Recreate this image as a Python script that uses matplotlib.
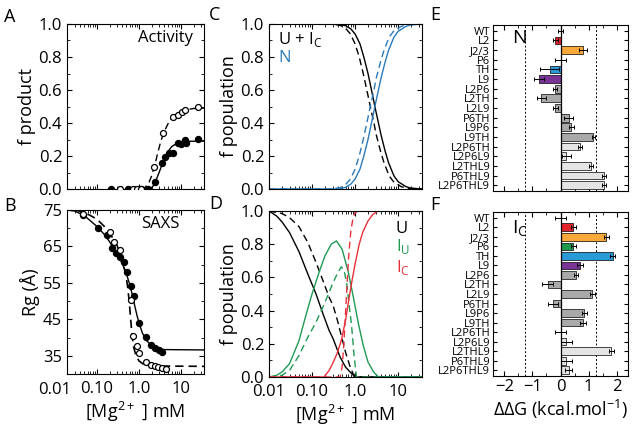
import numpy as np
import matplotlib.pyplot as plt
from matplotlib import transforms

plt.rcParams['font.family'] = ['Open Sans', 'DejaVu Sans']
plt.rcParams['mathtext.fontset'] = 'custom'
plt.rcParams['mathtext.rm'] = 'Open Sans'

# ---- A: activity ----
act_fill_x = [0.22, 0.55, 1.1, 1.6, 2.4, 3.6, 4.1, 5.2, 6.3, 8.3, 9.9, 12.4, 13.0, 25.8]
act_fill_y = [0.0, 0.0, 0.0, 0.0, 0.044, 0.16, 0.196, 0.22, 0.22, 0.277, 0.27, 0.297, 0.277, 0.303]
act_open_x = [0.36, 0.73, 0.88, 1.09, 2.28, 3.8, 6.3, 8.3, 10.3, 12.4, 25.8]
act_open_y = [0.0, 0.0, 0.0, 0.0, 0.135, 0.337, 0.438, 0.448, 0.468, 0.479, 0.499]
act_fit_x = [1.5, 1.9, 2.2, 2.6, 3.0, 3.5, 4.0, 5.0, 6.0, 8.0, 10, 15, 35]
act_fit_y = [0.0, 0.002, 0.02, 0.06, 0.1, 0.145, 0.185, 0.23, 0.257, 0.278, 0.285, 0.289, 0.29]
act_fit2_x = [1.1, 1.4, 1.7, 2.0, 2.4, 2.8, 3.3, 4.0, 5.0, 6.5, 9, 13, 20, 35]
act_fit2_y = [0.0, 0.01, 0.035, 0.08, 0.15, 0.22, 0.29, 0.35, 0.40, 0.44, 0.465, 0.48, 0.488, 0.49]

# ---- B: SAXS ----
rg_fill_x = [0.048, 0.109, 0.174, 0.229, 0.29, 0.35, 0.43, 0.52, 0.63, 0.75, 0.99, 1.44, 1.9, 2.4, 3.0, 3.6]
rg_fill_y = [73.6, 70.0, 68.2, 64.5, 63.2, 62.2, 60.6, 58.1, 54.2, 51.3, 44.1, 40.1, 38.0, 37.1, 36.5, 35.9]
rg_open_x = [0.048, 0.2, 0.25, 0.35, 0.63, 0.73, 0.88, 1.01, 1.44, 1.97, 2.4, 2.8, 3.5, 4.4]
rg_open_y = [74.0, 69.1, 66.1, 63.9, 50.4, 40.5, 37.6, 35.8, 33.2, 32.6, 32.3, 31.9, 31.6, 31.4]
rg_fit_x = [0.0195, 0.03, 0.05, 0.1, 0.15, 0.2, 0.3, 0.4, 0.5, 0.6, 0.7, 0.8, 0.9, 1.0, 1.2, 1.5, 2.0, 2.5, 3.0, 4, 35]
rg_fit_y = [75, 74.7, 73.5, 70.5, 68.3, 66.3, 63, 60.3, 57.6, 54.6, 51.6, 48.5, 46, 44, 41.3, 39.2, 37.8, 37.2, 36.9, 36.7, 36.6]
rg_fit2_x = [0.03, 0.05, 0.1, 0.15, 0.2, 0.3, 0.4, 0.5, 0.55, 0.6, 0.65, 0.7, 0.75, 0.85, 1.0, 1.3, 2.0, 35]
rg_fit2_y = [75, 74.4, 72.5, 70.5, 68.8, 65.3, 61.5, 56.5, 53, 48.5, 43.5, 39.8, 37.3, 35, 33.6, 32.6, 32.2, 32.1]

# ---- C: N vs U + Ic ----
c_x = [0.01, 0.4, 0.6, 0.8, 1.0, 1.3, 1.6, 2.0, 2.5, 3.0, 3.5, 4.0, 5, 6, 8, 10, 15, 20, 36]
c_n = [0, 0, 0.01, 0.03, 0.06, 0.12, 0.2, 0.3, 0.42, 0.52, 0.6, 0.67, 0.77, 0.84, 0.92, 0.955, 0.985, 0.995, 1.0]
c_u = [1, 1, 0.99, 0.97, 0.94, 0.88, 0.8, 0.7, 0.58, 0.48, 0.4, 0.33, 0.23, 0.16, 0.08, 0.045, 0.015, 0.005, 0]
c_x2 = [0.01, 0.3, 0.47, 0.62, 0.78, 1.0, 1.25, 1.55, 1.95, 2.35, 2.75, 3.1, 3.9, 4.7, 6.2, 7.8, 11.7, 15.6, 36]
c_n2 = [0, 0, 0.01, 0.03, 0.06, 0.12, 0.2, 0.3, 0.42, 0.52, 0.6, 0.67, 0.77, 0.84, 0.92, 0.955, 0.985, 0.995, 1.0]
c_u2 = [1, 1, 0.99, 0.97, 0.94, 0.88, 0.8, 0.7, 0.58, 0.48, 0.4, 0.33, 0.23, 0.16, 0.08, 0.045, 0.015, 0.005, 0]

# ---- D: U, Iu, Ic (solid and dashed fits) ----
du_x = [0.01, 0.015, 0.02, 0.03, 0.05, 0.08, 0.124, 0.18, 0.25, 0.31, 0.45, 0.6, 0.77, 1.0, 36]
du_y = [1.0, 0.97, 0.935, 0.87, 0.754, 0.62, 0.5, 0.38, 0.28, 0.23, 0.12, 0.06, 0.03, 0.0, 0.0]
du2_x = [0.01, 0.02, 0.03, 0.05, 0.08, 0.124, 0.18, 0.25, 0.31, 0.4, 0.5, 0.6, 0.75, 0.9, 1.08, 36]
du2_y = [1.0, 0.985, 0.96, 0.905, 0.81, 0.69, 0.58, 0.48, 0.43, 0.33, 0.23, 0.15, 0.07, 0.02, 0.0, 0.0]
diu_x = [0.01, 0.015, 0.02, 0.03, 0.05, 0.07, 0.1, 0.15, 0.2, 0.28, 0.37, 0.5, 0.7, 0.9, 1.2, 1.55, 2.0, 2.7, 3.5, 36]
diu_y = [0.0, 0.01, 0.03, 0.08, 0.22, 0.36, 0.5, 0.64, 0.73, 0.8, 0.82, 0.77, 0.63, 0.49, 0.32, 0.19, 0.09, 0.03, 0.0, 0.0]
diu2_x = [0.01, 0.02, 0.03, 0.05, 0.08, 0.124, 0.2, 0.31, 0.4, 0.48, 0.56, 0.65, 0.74, 0.83, 0.95, 1.08, 36]
diu2_y = [0.0, 0.01, 0.04, 0.13, 0.24, 0.33, 0.45, 0.57, 0.63, 0.664, 0.64, 0.55, 0.42, 0.31, 0.13, 0.0, 0.0]
dic_x = [0.01, 0.19, 0.25, 0.3, 0.38, 0.48, 0.6, 0.7, 0.85, 1.0, 1.25, 1.5, 2.0, 2.6, 3.5, 36]
dic_y = [0.0, 0.0, 0.04, 0.08, 0.14, 0.22, 0.34, 0.45, 0.58, 0.68, 0.8, 0.87, 0.94, 0.98, 1.0, 1.0]
dic2_x = [0.01, 0.45, 0.5, 0.55, 0.6, 0.65, 0.7, 0.75, 0.8, 0.9, 1.0, 1.2, 36]
dic2_y = [0.0, 0.0, 0.06, 0.2, 0.38, 0.55, 0.7, 0.8, 0.88, 0.96, 0.99, 1.0, 1.0]

# ---- E / F: ddG bars ----
mutants = ['WT', 'L2', 'J2/3', 'P6', 'TH', 'L9', 'L2P6', 'L2TH', 'L2L9', 'P6TH', 'L9P6',
           'L9TH', 'L2P6TH', 'L2P6L9', 'L2THL9', 'P6THL9', 'L2P6THL9']
ddg_n = [0.0, -0.18, 0.8, 0.0, -0.39, -0.76, -0.18, -0.68, -0.18, 0.29, 0.39, 1.17, 0.69, 0.21, 1.08, 1.55, 1.55]
ddg_n_err = [0.08, 0.1, 0.15, 0.2, 0.35, 0.18, 0.07, 0.15, 0.1, 0.15, 0.1, 0.06, 0.08, 0.15, 0.07, 0.07, 0.07]
ddg_ic = [0.0, 0.46, 1.63, 0.46, 1.85, 0.7, 0.55, -0.46, 1.13, -0.27, 0.85, 0.79, 0.0, 0.2, 1.81, 0.2, 0.29]
ddg_ic_err = [0.2, 0.1, 0.08, 0.1, 0.1, 0.1, 0.08, 0.2, 0.08, 0.17, 0.1, 0.1, 0.2, 0.2, 0.1, 0.2, 0.12]
bar_colors = ['white', '#e3252b', '#f9a83c', '#1e9a4f', '#2a9ad6', '#7a3495'] + ['#a9a9a9'] * 6 + ['#e4e4e4'] * 5

W, H = 637, 428
fig = plt.figure(figsize=(W / 100, H / 100), dpi=100)


def box(l, t, r, b):
    return fig.add_axes([l / W, 1 - b / H, (r - l) / W, (b - t) / H])


axA = box(67, 24, 204, 189)
axB = box(67, 210, 204, 374)
axC = box(269, 24, 422, 189)
axD = box(269, 211, 422, 377)
axE = box(493, 25, 628, 191)
axF = box(493, 212, 628, 376)

tick_kw = dict(which='both', direction='in', top=True, right=True, labelsize=12)
mk = 4.3

# A
axA.plot(act_fit_x, act_fit_y, '-', color='k', lw=1)
axA.plot(act_fit2_x, act_fit2_y, '--', color='k', lw=1, dashes=(5, 3))
axA.plot(act_fill_x, act_fill_y, 'o', mfc='k', mec='k', ms=mk, zorder=3)
axA.plot(act_open_x, act_open_y, 'o', mfc='white', mec='k', ms=mk, mew=0.9, zorder=3)
axA.set_xscale('log')
axA.set_xlim(0.0195, 35)
axA.set_ylim(0, 1)
axA.set_yticks([0, 0.2, 0.4, 0.6, 0.8, 1.0])
axA.set_yticks(np.arange(0.1, 1, 0.2), minor=True)
axA.set_yticklabels(['0.0', '0.2', '0.4', '0.6', '0.8', '1.0'])
axA.tick_params(**tick_kw)
axA.tick_params(labelbottom=False)
axA.set_ylabel('f product', fontsize=13, labelpad=2)
axA.text(0.92, 0.89, 'Activity', transform=axA.transAxes, ha='right', fontsize=12)

# B
axB.plot(rg_fit_x, rg_fit_y, '-', color='k', lw=1)
axB.plot(rg_fit2_x, rg_fit2_y, '--', color='k', lw=1.2, dashes=(5, 3))
axB.plot(rg_fill_x, rg_fill_y, 'o', mfc='k', mec='k', ms=mk, zorder=3)
axB.plot(rg_open_x, rg_open_y, 'o', mfc='white', mec='k', ms=mk, mew=0.9, zorder=3)
axB.set_xscale('log')
axB.set_xlim(0.0195, 35)
axB.set_ylim(30, 75)
axB.set_yticks([35, 45, 55, 65, 75])
axB.set_yticks([30, 40, 50, 60, 70], minor=True)
axB.set_xticks([0.1, 1, 10])
axB.set_xticklabels(['0.10', '1.0', '10'])
axB.tick_params(**tick_kw)
axB.tick_params(axis='x', pad=5)
trB = transforms.blended_transform_factory(axB.transData, axB.transAxes)
axB.text(0.01, -0.05, '0.01', transform=trB, ha='center', va='top', fontsize=12, clip_on=False)
axB.set_ylabel('Rg (Å)', fontsize=13, labelpad=2)
axB.set_xlabel('[Mg$^{\\mathregular{2+}}$ ] mM', fontsize=13, labelpad=2)
axB.text(0.82, 0.89, 'SAXS', transform=axB.transAxes, ha='right', fontsize=12)

# C
blue = '#2b7bba'
axC.plot(c_x, c_u, '-', color='k', lw=1)
axC.plot(c_x2, c_u2, '--', color='k', lw=1, dashes=(5, 3))
axC.plot(c_x, c_n, '-', color=blue, lw=1)
axC.plot(c_x2, c_n2, '--', color=blue, lw=1, dashes=(5, 3))
axC.text(0.06, 0.88, 'U + I$_\\mathregular{C}$', transform=axC.transAxes, fontsize=12)
axC.text(0.06, 0.77, 'N', transform=axC.transAxes, fontsize=12, color=blue)

# D
green = '#1f9a55'
red = '#e8303a'
axD.plot(du_x, du_y, '-', color='k', lw=1)
axD.plot(du2_x, du2_y, '--', color='k', lw=1, dashes=(5, 3))
axD.plot(diu_x, diu_y, '-', color=green, lw=1)
axD.plot(diu2_x, diu2_y, '--', color=green, lw=1, dashes=(5, 3))
axD.plot(dic_x, dic_y, '-', color=red, lw=1)
axD.plot(dic2_x, dic2_y, '--', color=red, lw=1, dashes=(5, 3))
axD.text(0.83, 0.87, 'U', transform=axD.transAxes, fontsize=12)
axD.text(0.83, 0.76, 'I$_\\mathregular{U}$', transform=axD.transAxes, fontsize=12, color=green)
axD.text(0.83, 0.63, 'I$_\\mathregular{C}$', transform=axD.transAxes, fontsize=12, color=red)

for ax in (axC, axD):
    ax.set_xscale('log')
    ax.set_xlim(0.01, 36)
    ax.set_ylim(0, 1)
    ax.set_yticks([0, 0.2, 0.4, 0.6, 0.8, 1.0])
    ax.set_yticks(np.arange(0.1, 1, 0.2), minor=True)
    ax.set_yticklabels(['0.0', '0.2', '0.4', '0.6', '0.8', '1.0'])
    ax.tick_params(**tick_kw)
    ax.set_ylabel('f population', fontsize=13, labelpad=2)
axC.tick_params(labelbottom=False)
axD.set_xticks([0.01, 0.1, 1, 10])
axD.set_xticklabels(['0.01', '0.10', '1.0', '10'])
axD.tick_params(axis='x', pad=5)
axD.set_xlabel('[Mg$^{\\mathregular{2+}}$ ] mM', fontsize=13, labelpad=2)

# E / F
ypos = np.arange(len(mutants))
for ax, vals, errs, tag in ((axE, ddg_n, ddg_n_err, 'N'), (axF, ddg_ic, ddg_ic_err, 'I$_\\mathregular{C}$')):
    ax.barh(ypos, vals, height=0.8, color=bar_colors, edgecolor='k', linewidth=0.5, zorder=2)
    ax.errorbar(vals, ypos, xerr=errs, fmt='none', ecolor='k', elinewidth=0.7, capsize=1.5, capthick=0.7, zorder=3)
    ax.axvline(0, color='k', lw=0.9, zorder=4)
    for v in (-1.25, 1.25):
        ax.axvline(v, color='k', lw=0.7, ls=(0, (2, 2)), zorder=1)
    ax.set_xlim(-2.4, 2.4)
    ax.set_ylim(len(mutants) - 0.4, -0.6)
    ax.set_yticks(ypos)
    ax.set_yticklabels(mutants, fontsize=8)
    ax.set_xticks([-2, -1, 0, 1, 2])
    ax.set_xticks([-1.5, -0.5, 0.5, 1.5], minor=True)
    ax.tick_params(which='both', direction='in', top=True, right=True, labelsize=12, pad=2)
    ax.tick_params(axis='y', labelsize=8, pad=2, length=3)
axE.text(0.14, 0.92, 'N', transform=axE.transAxes, fontsize=14, va='center')
axF.text(0.14, 0.9, 'I$_\\mathregular{C}$', transform=axF.transAxes, fontsize=14, va='center')
axE.tick_params(labelbottom=False)
axF.set_xticklabels(['\u22122', '\u22121', '0', '1', '2'])
axF.set_xlabel('\u0394\u0394G (kcal.mol$^{\\mathregular{-1}}$)', fontsize=13, labelpad=2)

for lab, x, y in (('A', 4, 8), ('B', 4, 197), ('C', 209, 6), ('D', 209, 195), ('E', 430, 6), ('F', 430, 196)):
    fig.text(x / W, 1 - y / H, lab, fontsize=13, va='top')

fig.savefig('out.png', dpi=100)
